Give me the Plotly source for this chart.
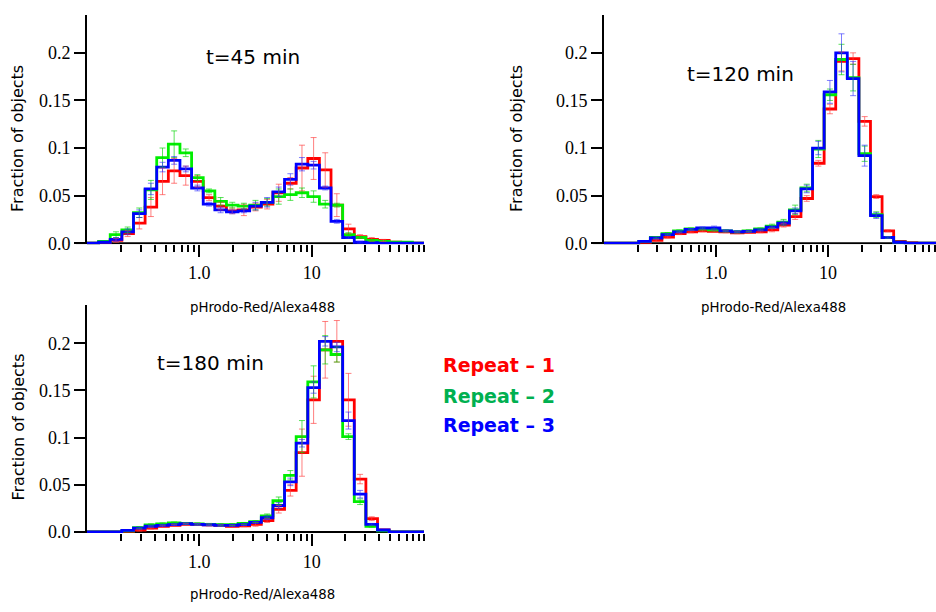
import plotly.graph_objects as go

# Log-spaced histogram bin edges of the pHrodo-Red/Alexa488 ratio
BIN_EDGES = [0.1, 0.1269, 0.1610, 0.2043, 0.2593, 0.3290, 0.4175, 0.5298, 0.6723, 0.8532,
             1.083, 1.374, 1.743, 2.212, 2.807, 3.562, 4.520, 5.736, 7.279, 9.237,
             11.72, 14.87, 18.87, 23.95, 30.39, 38.57, 48.94, 62.10, 78.80, 100.0]

# t = 45 min: fraction of objects per bin, one list per repeat
T45_REP1 = [0, 0.001, 0.003, 0.010, 0.021, 0.038, 0.065, 0.076, 0.071, 0.065, 0.048, 0.039, 0.034, 0.035,
            0.038, 0.041, 0.053, 0.063, 0.079, 0.089, 0.077, 0.040, 0.015, 0.007, 0.004, 0.003, 0.001, 0.0005, 0]
T45_REP2 = [0, 0.002, 0.009, 0.014, 0.032, 0.056, 0.090, 0.104, 0.095, 0.069, 0.055, 0.044, 0.040, 0.039,
            0.040, 0.043, 0.049, 0.051, 0.053, 0.049, 0.041, 0.040, 0.009, 0.006, 0.003, 0.002, 0.001, 0.001, 0]
T45_REP3 = [0, 0.001, 0.004, 0.012, 0.031, 0.057, 0.080, 0.087, 0.078, 0.058, 0.041, 0.035, 0.033, 0.034,
            0.039, 0.043, 0.054, 0.067, 0.083, 0.082, 0.058, 0.023, 0.006, 0.001, 0.0005, 0, 0, 0, 0]
T45_ERR1 = [0, 0, 0.002, 0.003, 0.006, 0.010, 0.014, 0.013, 0.010, 0.006, 0.003, 0.004, 0.003, 0.006,
            0.004, 0.005, 0.009, 0.006, 0.024, 0.022, 0.018, 0.012, 0.005, 0.002, 0.002, 0.001, 0, 0, 0]
T45_ERR2 = [0, 0, 0.003, 0.003, 0.005, 0.010, 0.010, 0.014, 0.004, 0.003, 0.002, 0.004, 0.003, 0.003,
            0.005, 0.004, 0.008, 0.006, 0.005, 0.006, 0.004, 0.002, 0.002, 0.001, 0.001, 0, 0, 0, 0]
T45_ERR3 = [0, 0, 0.002, 0.003, 0.004, 0.006, 0.005, 0.004, 0.003, 0.003, 0.002, 0.003, 0.002, 0.002,
            0.004, 0.005, 0.005, 0.006, 0.007, 0.004, 0.002, 0.002, 0.001, 0.001, 0, 0, 0, 0, 0]

# t = 120 min
T120_REP1 = [0, 0, 0, 0.001, 0.003, 0.0065, 0.010, 0.012, 0.013, 0.0125, 0.012, 0.011, 0.0115, 0.012,
             0.014, 0.019, 0.028, 0.047, 0.084, 0.141, 0.191, 0.194, 0.128, 0.049, 0.013, 0.002, 0.0005, 0, 0]
T120_REP2 = [0, 0, 0, 0.002, 0.006, 0.010, 0.013, 0.015, 0.015, 0.014, 0.013, 0.012, 0.013, 0.015,
             0.018, 0.022, 0.035, 0.058, 0.099, 0.156, 0.193, 0.174, 0.094, 0.030, 0.006, 0.001, 0, 0, 0]
T120_REP3 = [0, 0, 0, 0.002, 0.0055, 0.009, 0.012, 0.0145, 0.016, 0.016, 0.013, 0.012, 0.0125, 0.014,
             0.017, 0.021, 0.034, 0.057, 0.100, 0.159, 0.200, 0.173, 0.092, 0.029, 0.006, 0.001, 0, 0, 0]
T120_ERR1 = [0, 0, 0, 0, 0.001, 0.001, 0.001, 0.001, 0.001, 0.001, 0.001, 0.001, 0.001, 0.001,
             0.002, 0.002, 0.003, 0.003, 0.003, 0.005, 0.010, 0.006, 0.005, 0.002, 0.001, 0, 0, 0, 0]
T120_ERR2 = [0, 0, 0, 0, 0.001, 0.001, 0.001, 0.001, 0.001, 0.001, 0.001, 0.001, 0.001, 0.001,
             0.002, 0.003, 0.005, 0.004, 0.009, 0.006, 0.016, 0.014, 0.008, 0.003, 0.001, 0, 0, 0, 0]
T120_ERR3 = [0, 0, 0, 0, 0.001, 0.001, 0.001, 0.001, 0.001, 0.002, 0.001, 0.001, 0.001, 0.001,
             0.001, 0.002, 0.003, 0.004, 0.007, 0.012, 0.020, 0.018, 0.011, 0.003, 0.001, 0, 0, 0, 0]

# t = 180 min
T180_REP1 = [0, 0, 0, 0.0005, 0.002, 0.004, 0.006, 0.007, 0.008, 0.008, 0.0075, 0.007, 0.006, 0.0065,
             0.008, 0.012, 0.024, 0.044, 0.084, 0.140, 0.193, 0.202, 0.140, 0.056, 0.014, 0.002, 0, 0, 0]
T180_REP2 = [0, 0, 0, 0.001, 0.0045, 0.0075, 0.0085, 0.0095, 0.009, 0.0085, 0.008, 0.0076, 0.0078, 0.009,
             0.011, 0.017, 0.033, 0.060, 0.101, 0.159, 0.193, 0.188, 0.101, 0.032, 0.006, 0.001, 0, 0, 0]
T180_REP3 = [0, 0, 0, 0.0017, 0.004, 0.006, 0.007, 0.0078, 0.0087, 0.008, 0.0076, 0.007, 0.007, 0.0078,
             0.010, 0.015, 0.028, 0.053, 0.094, 0.153, 0.202, 0.196, 0.118, 0.040, 0.008, 0.002, 0, 0, 0]
T180_ERR1 = [0, 0, 0, 0, 0.001, 0.001, 0.001, 0.001, 0.001, 0.001, 0.001, 0.001, 0.001, 0.001,
             0.002, 0.002, 0.004, 0.006, 0.025, 0.025, 0.030, 0.022, 0.028, 0.005, 0.002, 0, 0, 0, 0]
T180_ERR2 = [0, 0, 0, 0, 0.001, 0.001, 0.001, 0.001, 0.001, 0.001, 0.001, 0.001, 0.001, 0.001,
             0.001, 0.002, 0.004, 0.005, 0.017, 0.017, 0.015, 0.008, 0.003, 0.003, 0.001, 0, 0, 0, 0]
T180_ERR3 = [0, 0, 0, 0, 0.001, 0.001, 0.001, 0.001, 0.001, 0.001, 0.001, 0.001, 0.001, 0.001,
             0.001, 0.002, 0.003, 0.004, 0.004, 0.006, 0.005, 0.005, 0.009, 0.004, 0.001, 0, 0, 0, 0]

PANEL_LABELS = ["t=45 min", "t=120 min", "t=180 min"]
REPEAT_NAMES = ["Repeat \u2013 1", "Repeat \u2013 2", "Repeat \u2013 3"]
X_TICK_VALS = [1, 10]
X_TICK_TEXT = ["1.0", "10"]
X_MINOR_VALS = [0.2, 0.3, 0.4, 0.5, 0.6, 0.7, 0.8, 0.9, 2, 3, 4, 5, 6, 7, 8, 9,
                20, 30, 40, 50, 60, 70, 80, 90, 100]
Y_TICK_VALS = [0, 0.05, 0.1, 0.15, 0.2]
Y_TICK_TEXT = ["0.0", "0.05", "0.1", "0.15", "0.2"]
X_TITLE = "pHrodo-Red/Alexa488"
Y_TITLE = "Fraction of objects"

LINE_COLORS = ["#FF0000", "#00EE00", "#0000FF"]
BAR_COLORS = ["rgba(255,60,60,0.65)", "rgba(0,210,0,0.65)", "rgba(40,40,255,0.6)"]
LEGEND_COLORS = ["#FF0000", "#00B050", "#0000FF"]

W, H = 936, 612
SANS = "DejaVu Sans, sans-serif"
SERIF = "Times New Roman, Liberation Serif, serif"


def px(x):
    return x / W


def py(y):
    return 1 - y / H


panels = [
    dict(xa="x", ya="y", series=[T45_REP1, T45_REP2, T45_REP3], errs=[T45_ERR1, T45_ERR2, T45_ERR3],
         xdom=[px(87), px(424)], xrange=[-1, 2], ydom=[py(248), py(15)]),
    dict(xa="x2", ya="y2", series=[T120_REP1, T120_REP2, T120_REP3], errs=[T120_ERR1, T120_ERR2, T120_ERR3],
         xdom=[px(604), 1.0], xrange=[-1, -1 + (936 - 604) / 112.0], ydom=[py(248), py(15)]),
    dict(xa="x3", ya="y3", series=[T180_REP1, T180_REP2, T180_REP3], errs=[T180_ERR1, T180_ERR2, T180_ERR3],
         xdom=[px(87), px(424)], xrange=[-1, 2], ydom=[py(541), py(310)]),
]

centers = [(BIN_EDGES[i] * BIN_EDGES[i + 1]) ** 0.5 for i in range(len(BIN_EDGES) - 1)]

fig = go.Figure()

for p in panels:
    # step outlines of the three histograms
    for vals, color in zip(p["series"], LINE_COLORS):
        fig.add_trace(go.Scatter(
            x=BIN_EDGES, y=list(vals) + [vals[-1]], mode="lines",
            line=dict(color=color, width=2.8, shape="hv"),
            xaxis=p["xa"], yaxis=p["ya"], showlegend=False, hoverinfo="skip"))
    # error bars at bin centres
    for vals, errs, color in zip(p["series"], p["errs"], BAR_COLORS):
        xs = [c for c, e in zip(centers, errs) if e > 0]
        ys = [v for v, e in zip(vals, errs) if e > 0]
        es = [e for e in errs if e > 0]
        fig.add_trace(go.Scatter(
            x=xs, y=ys, mode="markers", marker=dict(size=1, color="rgba(0,0,0,0)"),
            error_y=dict(type="data", array=es, visible=True, color=color, thickness=1, width=3),
            xaxis=p["xa"], yaxis=p["ya"], showlegend=False, hoverinfo="skip"))

layout = dict(
    width=W, height=H,
    margin=dict(l=0, r=0, t=0, b=0),
    paper_bgcolor="white", plot_bgcolor="white",
    showlegend=False,
)

shapes = []
for i, p in enumerate(panels):
    sx = "" if i == 0 else str(i + 1)
    layout["xaxis" + sx] = dict(
        domain=p["xdom"], type="log", range=p["xrange"], anchor=p["ya"],
        tickmode="array", tickvals=X_TICK_VALS, ticktext=X_TICK_TEXT,
        ticks="outside", ticklen=12, tickwidth=2, tickcolor="black",
        showline=False, showgrid=False, zeroline=False,
        tickfont=dict(family=SERIF, size=18, color="black"),
        minor=dict(tickmode="array", tickvals=X_MINOR_VALS, ticks="outside",
                   ticklen=7, tickwidth=2, tickcolor="black", showgrid=False),
    )
    layout["yaxis" + sx] = dict(
        domain=p["ydom"], range=[-0.0012, 0.24], anchor=p["xa"],
        tickmode="array", tickvals=Y_TICK_VALS, ticktext=Y_TICK_TEXT,
        ticks="outside", ticklen=11, tickwidth=2, tickcolor="black",
        showline=True, linewidth=2, linecolor="black",
        showgrid=False, zeroline=False,
        tickfont=dict(family=SERIF, size=18, color="black"),
    )
    # horizontal axis line, extended a little to the left of the vertical axis
    shapes.append(dict(
        type="line", xref=p["xa"] + " domain", yref=p["ya"],
        x0=-11 / 337.0, x1=1, y0=0, y1=0,
        line=dict(color="black", width=2), layer="below"))

layout["shapes"] = shapes

annotations = []
# axis titles
for (x, y) in [(262, 312), (773, 312), (262, 603)]:
    annotations.append(dict(text=X_TITLE, x=px(x), y=py(y), xref="paper", yref="paper",
                            showarrow=False, xanchor="center", yanchor="middle",
                            font=dict(family=SANS, size=13.3, color="black")))
for (x, y) in [(18, 141), (517, 141), (19, 434)]:
    annotations.append(dict(text=Y_TITLE, x=px(x), y=py(y), xref="paper", yref="paper",
                            showarrow=False, xanchor="center", yanchor="middle", textangle=-90,
                            font=dict(family=SANS, size=16, color="black")))
# time-point labels
for label, (x, y) in zip(PANEL_LABELS, [(253, 58), (740, 75), (210, 368)]):
    annotations.append(dict(text=label, x=px(x), y=py(y), xref="paper", yref="paper",
                            showarrow=False, xanchor="center", yanchor="middle",
                            font=dict(family=SANS, size=20, color="black")))
# colour key for the repeats
for name, color, y in zip(REPEAT_NAMES, LEGEND_COLORS, [370, 402, 431]):
    annotations.append(dict(text="<b>" + name + "</b>", x=px(441), y=py(y), xref="paper", yref="paper",
                            showarrow=False, xanchor="left", yanchor="middle",
                            font=dict(family=SANS, size=19, color=color)))
layout["annotations"] = annotations

fig.update_layout(**layout)
fig.write_html("out.html")
